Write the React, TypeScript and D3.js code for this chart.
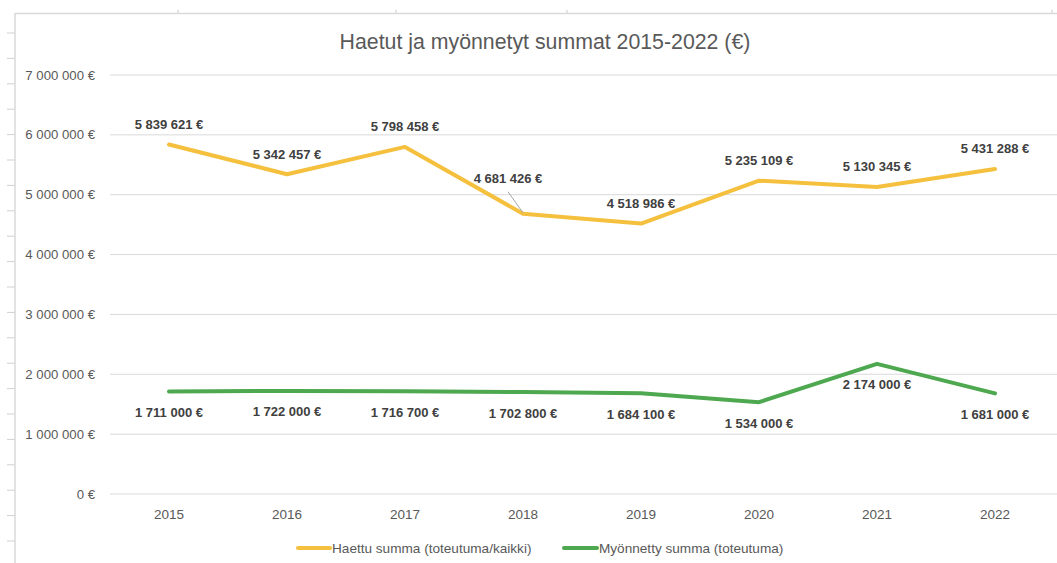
import React from "react";
import * as d3 from "d3";

const years = ["2015", "2016", "2017", "2018", "2019", "2020", "2021", "2022"];
const haettu = [5839621, 5342457, 5798458, 4681426, 4518986, 5235109, 5130345, 5431288];
const myonnetty = [1711000, 1722000, 1716700, 1702800, 1684100, 1534000, 2174000, 1681000];
const yTicks = [0, 1000000, 2000000, 3000000, 4000000, 5000000, 6000000, 7000000];
const seriesNames = ["Haettu summa (toteutuma/kaikki)", "Myönnetty summa (toteutuma)"];
const title = "Haetut ja myönnetyt summat 2015-2022 (€)";

const W = 1057;
const H = 563;
const YELLOW = "#F4C03E";
const GREEN = "#4DA84F";
const FONT = "'Liberation Sans', Arial, sans-serif";

const fmt = (v: number) => {
  const s = Math.round(v).toString().replace(/\B(?=(\d{3})+(?!\d))/g, " ");
  return s + " €";
};

export default function App() {
  const x = d3.scaleBand<string>().domain(years).range([110, 1054]);
  const y = d3.scaleLinear().domain([0, 7000000]).range([494, 75]);
  const cx = (d: string) => (x(d) as number) + x.bandwidth() / 2;
  const line = d3
    .line<number>()
    .x((_, i) => cx(years[i]))
    .y((v) => y(v));

  const leftTicks = d3.range(21).map((i) => 33 + i * 25.4);
  const topTicks = [178, 396, 567, 1052];

  return (
    <svg
      width={W}
      height={H}
      style={{ position: "absolute", left: 0, top: 0, background: "#fff" }}
      fontFamily={FONT}
    >
      {/* sheet artifacts */}
      {leftTicks.map((t, i) => (
        <line key={"lt" + i} x1={7} x2={15} y1={t} y2={t} stroke="#d0d0d0" strokeWidth={1} />
      ))}
      {topTicks.map((t, i) => (
        <line key={"tt" + i} x1={t} x2={t} y1={10} y2={13} stroke="#c8c8c8" strokeWidth={1} />
      ))}
      <line x1={15} x2={W} y1={13.5} y2={13.5} stroke="#d9d9d9" strokeWidth={1.5} />
      <line x1={15} x2={15} y1={13} y2={H} stroke="#d9d9d9" strokeWidth={1.5} />

      {/* title */}
      <text x={545} y={49} textAnchor="middle" fontSize={21.3} fill="#595959">
        {title}
      </text>

      {/* gridlines & y labels */}
      {yTicks.map((t) => (
        <g key={t}>
          <line x1={110} x2={W} y1={y(t)} y2={y(t)} stroke="#d9d9d9" strokeWidth={1} />
          <text x={95} y={y(t)} dy="0.35em" textAnchor="end" fontSize={13.2} fill="#595959">
            {fmt(t)}
          </text>
        </g>
      ))}

      {/* x labels */}
      {years.map((yr) => (
        <text key={yr} x={cx(yr)} y={514} dy="0.35em" textAnchor="middle" fontSize={13.5} fill="#595959">
          {yr}
        </text>
      ))}

      {/* lines */}
      <path d={line(haettu) || ""} fill="none" stroke={YELLOW} strokeWidth={4} strokeLinejoin="round" strokeLinecap="round" />
      <path d={line(myonnetty) || ""} fill="none" stroke={GREEN} strokeWidth={4} strokeLinejoin="round" strokeLinecap="round" />

      {/* leader line for 2018 */}
      <line
        x1={cx("2018") - 15}
        y1={y(haettu[3]) - 22}
        x2={cx("2018")}
        y2={y(haettu[3]) - 1}
        stroke="#a6a6a6"
        strokeWidth={1}
      />

      {/* data labels */}
      {haettu.map((v, i) => {
        const isLeader = i === 3;
        const lx = cx(years[i]) + (isLeader ? -15 : 0);
        const ly = y(v) + (isLeader ? -35 : -20);
        return (
          <text key={"h" + i} x={lx} y={ly} dy="0.35em" textAnchor="middle" fontSize={13} fontWeight="bold" fill="#404040">
            {fmt(v)}
          </text>
        );
      })}
      {myonnetty.map((v, i) => (
        <text key={"m" + i} x={cx(years[i])} y={y(v) + 21} dy="0.35em" textAnchor="middle" fontSize={13} fontWeight="bold" fill="#404040">
          {fmt(v)}
        </text>
      ))}

      {/* legend */}
      <line x1={298} x2={330} y1={548} y2={548} stroke={YELLOW} strokeWidth={4} strokeLinecap="round" />
      <text x={332} y={548} dy="0.35em" fontSize={13.6} fill="#595959">
        {seriesNames[0]}
      </text>
      <line x1={564} x2={597} y1={548} y2={548} stroke={GREEN} strokeWidth={4} strokeLinecap="round" />
      <text x={599} y={548} dy="0.35em" fontSize={13.6} fill="#595959">
        {seriesNames[1]}
      </text>
    </svg>
  );
}
